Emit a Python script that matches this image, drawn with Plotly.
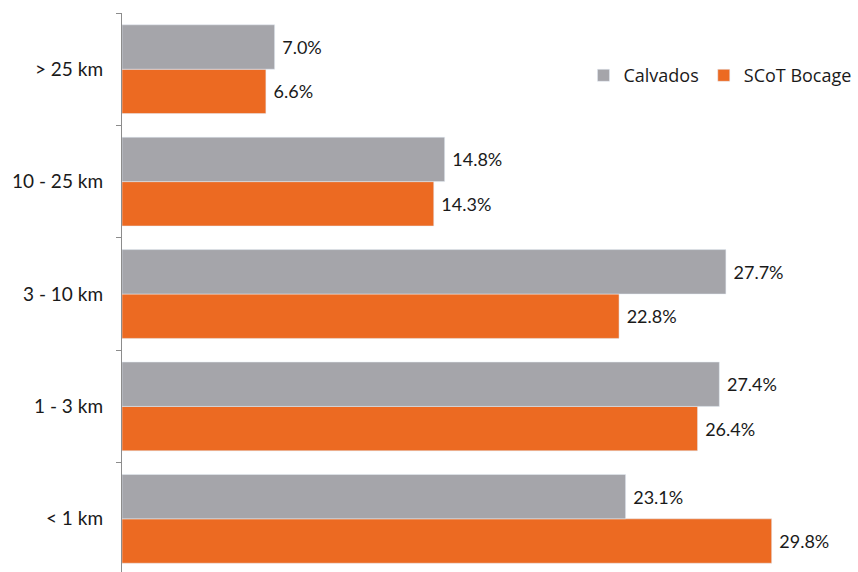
import plotly.graph_objects as go

categories = ["< 1 km", "1 - 3 km", "3 - 10 km", "10 - 25 km", "> 25 km"]
calvados = [23.1, 27.4, 27.7, 14.8, 7.0]
scot_bocage = [29.8, 26.4, 22.8, 14.3, 6.6]

FONT = "Lato"
LABEL_FONT = dict(family=FONT, size=18, color="#1a1a1a")
fig = go.Figure()
fig.add_trace(go.Bar(
    y=categories, x=scot_bocage, orientation="h", name="SCoT Bocage",
    marker=dict(color="#EC6A22"), texttemplate="\u00a0%{x:.1f}%", textposition="outside",
    textfont=LABEL_FONT, cliponaxis=False, legendrank=2,
))
fig.add_trace(go.Bar(
    y=categories, x=calvados, orientation="h", name="Calvados",
    marker=dict(color="#A5A5AA"), texttemplate="\u00a0%{x:.1f}%", textposition="outside",
    textfont=LABEL_FONT, cliponaxis=False, legendrank=1,
))
fig.update_layout(
    width=858, height=572,
    margin=dict(l=122, r=0, t=13, b=0, autoexpand=False),
    barmode="group", bargap=0.21, bargroupgap=0,
    plot_bgcolor="white", paper_bgcolor="white",
    font=dict(family=FONT, size=16, color="#1a1a1a"),
    showlegend=True,
    legend=dict(orientation="h", x=0.627, y=0.888, xanchor="left", yanchor="middle",
                font=dict(family="Open Sans", size=18, color="#1a1a1a"),
                tracegroupgap=0, bgcolor="rgba(0,0,0,0)"),
)
fig.update_xaxes(range=[0, 33.76], visible=False, showgrid=False, zeroline=False)
fig.update_yaxes(
    type="category", range=[-0.473, 4.5],
    showline=True, linecolor="#8c8c8c", linewidth=1.3,
    ticks="outside", tickson="boundaries", ticklen=5, tickcolor="#8c8c8c", tickwidth=1.3,
    showgrid=False, zeroline=False, ticklabelstandoff=14,
    tickfont=dict(family=FONT, size=19, color="#1a1a1a"),
)
fig.write_html("out.html", config={"displayModeBar": False},
               post_script="document.body.style.margin='0';document.body.style.overflow='hidden';")
